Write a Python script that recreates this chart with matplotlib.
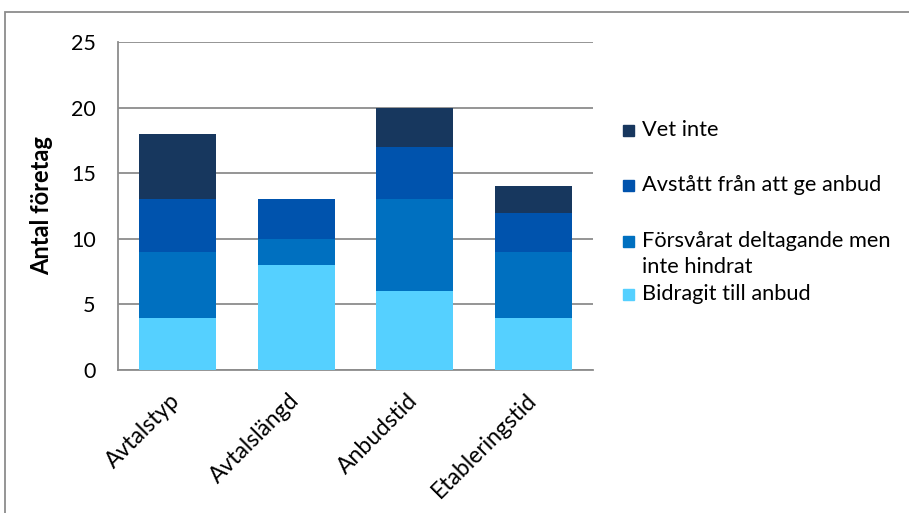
import numpy as np
import matplotlib.pyplot as plt
from matplotlib.patches import Rectangle
from matplotlib.transforms import ScaledTranslation

plt.rcParams['font.family'] = ['Lato', 'DejaVu Sans']

kategorier = ['Avtalstyp', 'Avtalslängd', 'Anbudstid', 'Etableringstid']
bidragit = [4, 8, 6, 4]
forsvarat = [5, 2, 7, 5]
avstatt = [4, 3, 4, 3]
vet_inte = [5, 0, 3, 2]

serier = [
    ('Bidragit till anbud', bidragit, '#55d0ff'),
    ('Försvårat deltagande men\ninte hindrat', forsvarat, '#0070c0'),
    ('Avstått från att ge anbud', avstatt, '#0053ad'),
    ('Vet inte', vet_inte, '#17375e'),
]

fig = plt.figure(figsize=(9.09, 5.13), dpi=100)
ax = fig.add_axes([118/909, 1 - 370/513, (593 - 118)/909, (370 - 42)/513])

x = np.arange(len(kategorier))
bottom = np.zeros(len(kategorier))
for namn, varden, farg in serier:
    ax.bar(x, varden, 0.65, bottom=bottom, color=farg, zorder=3)
    bottom += np.array(varden)

ax.set_xlim(-0.5, len(kategorier) - 0.5)
ax.set_ylim(0, 25)
ax.set_yticks([0, 5, 10, 15, 20, 25])
ax.yaxis.grid(True, color='#8c8c8c', linewidth=1.3, zorder=0)
ax.set_xticks(x)
ax.set_xticklabels(kategorier, rotation=45, ha='right', rotation_mode='anchor', fontsize=16.5)
ax.tick_params(axis='both', length=0)
ax.tick_params(axis='y', pad=16, labelsize=15.5)
ax.tick_params(axis='x', pad=10)
# nudge rotated category labels left/down
skift = ScaledTranslation(-8/100, -6/100, fig.dpi_scale_trans)
for lbl in ax.get_xticklabels():
    lbl.set_transform(lbl.get_transform() + skift)
for side in ['top', 'right']:
    ax.spines[side].set_visible(False)
for side in ['left', 'bottom']:
    ax.spines[side].set_color('#8c8c8c')
    ax.spines[side].set_linewidth(1.3)
ax.set_ylabel('Antal företag', fontsize=17, fontweight='bold', labelpad=13)

# legend drawn by hand, top entry first
poster = [
    ('Vet inte', '#17375e', 130),
    ('Avstått från att ge anbud', '#0053ad', 185),
    ('Försvårat deltagande men', '#0070c0', 241),
    ('Bidragit till anbud', '#55d0ff', 294),
]
for text, farg, ypx in poster:
    fig.patches.append(Rectangle((623/909, 1 - (ypx + 6)/513), 11/909, 11/513,
                                 transform=fig.transFigure, color=farg))
    fig.text(642/909, 1 - ypx/513, text, fontsize=15.7, va='center')
fig.text(642/909, 1 - 267/513, 'inte hindrat', fontsize=15.7, va='center')

# chart border
fig.patches.append(Rectangle((5/909, -0.05), 1.05, 1 - 12/513 + 0.05,
                             transform=fig.transFigure, fill=False,
                             edgecolor='#8c8c8c', linewidth=1.3))

fig.savefig('out.png', dpi=100)
